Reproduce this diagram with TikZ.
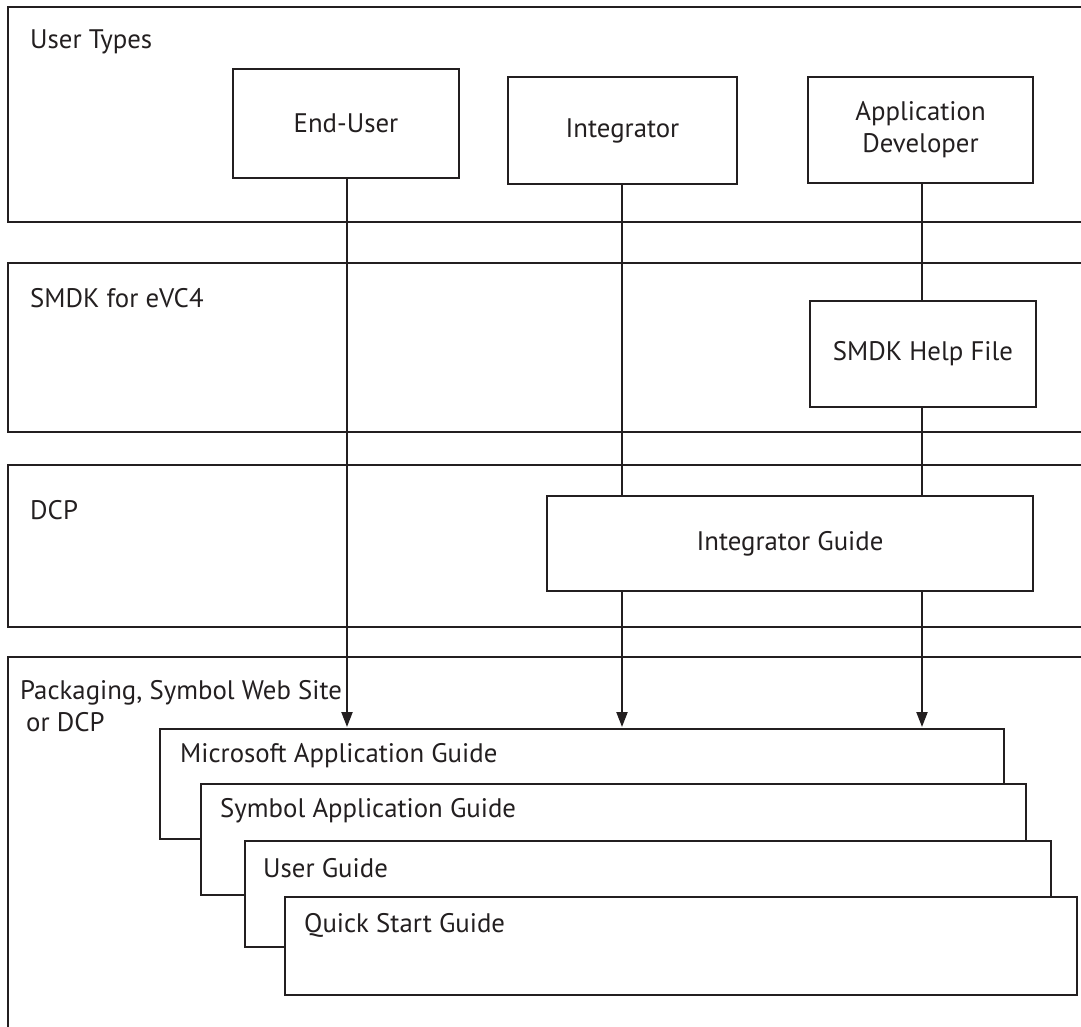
\documentclass[tikz,border=0pt]{standalone}
\usepackage{fontspec}
\setmainfont{PT Sans}
\usetikzlibrary{arrows.meta}
\tikzset{
  ln/.style={line width=2.2pt, draw={rgb,255:red,35;green,31;blue,32}},
  box/.style={ln, rectangle, inner sep=0pt, fill=white},
  txt/.style={inner sep=0pt, font=\fontsize{26.8}{32}\selectfont, text={rgb,255:red,35;green,31;blue,32}},
  arr/.style={ln, -{Triangle[length=15pt,width=11pt]}},
}
\begin{document}
\begin{tikzpicture}[x=1pt,y=-1pt]
\useasboundingbox (0,0) rectangle (1081,1027);
% panels
\draw[ln] (1081,7) -- (8,7) -- (8,222) -- (1081,222);
\draw[ln] (1081,263) -- (8,263) -- (8,432) -- (1081,432);
\draw[ln] (1081,465) -- (8,465) -- (8,627) -- (1081,627);
\draw[ln] (1081,657) -- (8,657) -- (8,1030);
\node[txt, anchor=west] (p1) at (30,42) {User Types};
\node[txt, anchor=west] (p2) at (30,298) {SMDK for eVC4};
\node[txt, anchor=west] (p3) at (30,510) {DCP};
\node[txt, anchor=west, align=left] (p4) at (20,706) {Packaging, Symbol Web Site\\\hspace*{6pt}or DCP};
% top boxes
\node[box, txt, ln, minimum width=226pt, minimum height=109pt] (eu) at (346,123.5) {End-User};
\node[box, txt, ln, minimum width=229pt, minimum height=107pt] (in) at (622.5,130.5) {Integrator};
\node[box, txt, ln, minimum width=225pt, minimum height=106pt, align=center] (ad) at (920.5,130) {Application\\Developer};
\node[box, txt, ln, minimum width=226pt, minimum height=106pt] (sm) at (923,354) {SMDK Help File};
\node[box, txt, ln, minimum width=486pt, minimum height=95pt] (ig) at (790,543.5) {Integrator Guide};
% stacked guides
\node[box, minimum width=844pt, minimum height=110pt] (ms) at (582,784) {};
\node[box, minimum width=825pt, minimum height=111pt] (sy) at (613.5,839.5) {};
\node[box, minimum width=806pt, minimum height=106pt] (ug) at (648,894) {};
\node[box, minimum width=792pt, minimum height=98pt] (qs) at (681,946) {};
\node[txt, anchor=west] (mst) at (180,756) {Microsoft Application Guide};
\node[txt, anchor=west] (syt) at (220,811) {Symbol Application Guide};
\node[txt, anchor=west] (ugt) at (263,868) {User Guide};
\node[txt, anchor=west] (qst) at (304,925) {Quick Start Guide};
% connectors
\coordinate (a1) at (347,727);
\coordinate (a2) at (622,727);
\coordinate (a3) at (922,727);
\draw[arr] (eu.south -| a1) -- (a1);
\draw[ln] (in.south -| a2) -- (ig.north -| a2);
\draw[arr] (ig.south -| a2) -- (a2);
\draw[ln] (ad.south -| a3) -- (sm.north -| a3);
\draw[ln] (sm.south -| a3) -- (ig.north -| a3);
\draw[arr] (ig.south -| a3) -- (a3);
\end{tikzpicture}
\end{document}
